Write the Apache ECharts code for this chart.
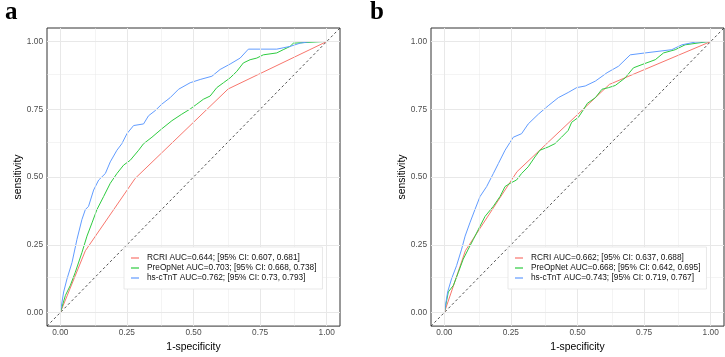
<!DOCTYPE html>
<html>
<head>
<meta charset="utf-8">
<script src="https://cdn.jsdelivr.net/npm/echarts@6/dist/echarts.min.js"></script>
<style>
  html, body { margin: 0; padding: 0; background: #fff; }
  #chart { width: 725px; height: 357px; }
</style>
</head>
<body>
<div id="chart"></div>
<script>
// ROC points as [1-specificity, sensitivity]
const rocA_RCRI = [[0, 0], [0.094, 0.228], [0.281, 0.495], [0.63, 0.825], [1, 1]]
const rocA_PreOpNet = [
  [0, 0], [0.019, 0.063], [0.0375, 0.10], [0.056, 0.148], [0.081, 0.221], [0.10, 0.282],
  [0.119, 0.331], [0.1375, 0.38], [0.1625, 0.428], [0.1875, 0.477], [0.2125, 0.513],
  [0.2375, 0.544], [0.2625, 0.562], [0.294, 0.599], [0.3125, 0.623], [0.344, 0.647],
  [0.381, 0.678], [0.419, 0.708], [0.456, 0.732], [0.4875, 0.751], [0.5125, 0.769],
  [0.537, 0.787], [0.5625, 0.799], [0.5875, 0.83], [0.6125, 0.848], [0.6375, 0.866],
  [0.6625, 0.89], [0.687, 0.921], [0.7125, 0.933], [0.7375, 0.939], [0.762, 0.951],
  [0.8125, 0.958], [0.837, 0.97], [0.8625, 0.982], [0.875, 0.994], [0.987, 1.0], [1, 1]
]
const rocA_cTnT = [
  [0, 0], [0.0125, 0.076], [0.025, 0.124], [0.044, 0.185], [0.0625, 0.27], [0.081, 0.343],
  [0.094, 0.38], [0.106, 0.392], [0.125, 0.452], [0.144, 0.489], [0.169, 0.513],
  [0.1875, 0.556], [0.2125, 0.599], [0.231, 0.623], [0.25, 0.66], [0.275, 0.69],
  [0.3125, 0.696], [0.331, 0.726], [0.356, 0.745], [0.381, 0.769], [0.4125, 0.793],
  [0.444, 0.824], [0.4875, 0.848], [0.525, 0.86], [0.569, 0.872], [0.6, 0.897],
  [0.6375, 0.917], [0.675, 0.939], [0.706, 0.972], [0.8125, 0.972], [0.8625, 0.982],
  [0.9, 0.994], [0.9375, 1.0], [1, 1]
]

const rocB_RCRI = [[0, 0], [0.079, 0.228], [0.273, 0.52], [0.62, 0.842], [1, 1]]
const rocB_PreOpNet = [
  [0, 0], [0.015, 0.076], [0.034, 0.10], [0.0525, 0.148], [0.071, 0.197], [0.09, 0.234],
  [0.109, 0.27], [0.128, 0.307], [0.153, 0.355], [0.184, 0.392], [0.209, 0.428],
  [0.228, 0.465], [0.247, 0.477], [0.271, 0.489], [0.29, 0.513], [0.315, 0.538],
  [0.34, 0.574], [0.359, 0.599], [0.39, 0.611], [0.415, 0.623], [0.44, 0.647],
  [0.465, 0.672], [0.478, 0.702], [0.503, 0.72], [0.52, 0.745], [0.537, 0.772],
  [0.567, 0.793], [0.592, 0.824], [0.617, 0.83], [0.642, 0.838], [0.679, 0.866],
  [0.71, 0.903], [0.742, 0.915], [0.792, 0.933], [0.823, 0.958], [0.867, 0.97],
  [0.904, 0.988], [0.992, 1.0], [1, 1]
]
const rocB_cTnT = [
  [0, 0], [0.0125, 0.076], [0.027, 0.124], [0.046, 0.173], [0.065, 0.234], [0.078, 0.282],
  [0.096, 0.331], [0.115, 0.38], [0.134, 0.428], [0.159, 0.465], [0.184, 0.513],
  [0.203, 0.55], [0.228, 0.599], [0.259, 0.647], [0.29, 0.66], [0.315, 0.696],
  [0.353, 0.732], [0.39, 0.763], [0.428, 0.793], [0.465, 0.812], [0.497, 0.83],
  [0.529, 0.836], [0.567, 0.854], [0.611, 0.885], [0.654, 0.909], [0.698, 0.951],
  [0.754, 0.958], [0.854, 0.97], [0.892, 0.988], [0.942, 0.998], [0.992, 1.0], [1, 1]
]

const namesA = [
  'RCRI AUC=0.644; [95% CI: 0.607, 0.681]',
  'PreOpNet AUC=0.703; [95% CI: 0.668, 0.738]',
  'hs-cTnT AUC=0.762; [95% CI: 0.73, 0.793]'
]
const namesB = [
  'RCRI AUC=0.662; [95% CI: 0.637, 0.688]',
  'PreOpNet AUC=0.668; [95% CI: 0.642, 0.695]',
  'hs-cTnT AUC=0.743; [95% CI: 0.719, 0.767]'
]
const panelLabels = ['a', 'b']

const majorTicks = [0, 0.25, 0.5, 0.75, 1]
const minorTicks = [0.125, 0.375, 0.625, 0.875]
const diagonal = [[-0.05, -0.05], [1.05, 1.05]]

const colors = ['#F8766D', '#2ECC40', '#619CFF']
const FONT = 'Liberation Sans, Arial, sans-serif'

const chart = echarts.init(document.getElementById('chart'))

function makeAxis(dim, idx) {
  const isX = dim === 'x'
  return {
    type: 'value',
    gridIndex: idx,
    min: -0.05,
    max: 1.05,
    name: isX ? '1-specificity' : 'sensitivity',
    nameLocation: 'middle',
    nameGap: isX ? 15.5 : 21,
    nameTextStyle: { fontFamily: FONT, fontSize: 10.4, color: '#000' },
    axisLine: { show: false },
    axisTick: {
      show: true, length: 3, customValues: majorTicks,
      lineStyle: { color: '#333', width: 1 }
    },
    axisLabel: {
      customValues: majorTicks,
      formatter: v => v.toFixed(2),
      fontFamily: FONT, fontSize: 8.3, color: '#4D4D4D',
      margin: isX ? 3 : 4
    },
    splitLine: { show: false }
  }
}

function gridLineSeries(idx) {
  const lines = []
  majorTicks.forEach(v => {
    lines.push({ xAxis: v, lineStyle: { width: 1 } })
    lines.push({ yAxis: v, lineStyle: { width: 1 } })
  })
  minorTicks.forEach(v => {
    lines.push({ xAxis: v, lineStyle: { width: 0.5 } })
    lines.push({ yAxis: v, lineStyle: { width: 0.5 } })
  })
  return {
    type: 'line', xAxisIndex: idx, yAxisIndex: idx, data: [], z: 1, silent: true,
    markLine: {
      silent: true, symbol: ['none', 'none'], label: { show: false },
      lineStyle: { color: '#E8E8E8', type: 'solid' }, animation: false,
      data: lines
    }
  }
}

function curve(name, data, color, idx) {
  return {
    name, type: 'line', xAxisIndex: idx, yAxisIndex: idx, data,
    symbol: 'none', z: 3,
    lineStyle: { color, width: 1 }, itemStyle: { color }
  }
}

function legendFor(names, left) {
  return {
    data: names, left, top: 247, orient: 'vertical', z: 20,
    icon: 'rect', itemWidth: 8, itemHeight: 1.2, itemGap: 0,
    selectedMode: false,
    backgroundColor: '#fff', borderColor: '#E3E3E3', borderWidth: 0.8,
    padding: [6, 6, 6, 7],
    textStyle: { fontFamily: FONT, fontSize: 8.3, color: '#111', lineHeight: 10, padding: [0, 0, 0, 3] }
  }
}

const panels = [
  { names: namesA, curves: [rocA_RCRI, rocA_PreOpNet, rocA_cTnT] },
  { names: namesB, curves: [rocB_RCRI, rocB_PreOpNet, rocB_cTnT] }
]

const series = []
panels.forEach((p, i) => {
  series.push(gridLineSeries(i))
  series.push({
    type: 'line', xAxisIndex: i, yAxisIndex: i, data: diagonal, symbol: 'none', z: 2,
    silent: true, lineStyle: { color: '#222', width: 0.8, type: [2.5, 2.5] }
  })
  p.curves.forEach((c, k) => series.push(curve(p.names[k], c, colors[k], i)))
})

chart.setOption({
  animation: false,
  backgroundColor: '#fff',
  title: panelLabels.map((t, i) => ({
    text: t, left: i === 0 ? 0 : 365, top: -5,
    textStyle: { fontFamily: 'Liberation Serif, serif', fontWeight: 'bold', fontSize: 25, color: '#000' }
  })),
  grid: [
    { left: 47, top: 28, width: 293, height: 301, show: true, borderColor: '#333', borderWidth: 1, backgroundColor: '#fff' },
    { left: 431, top: 28, width: 293, height: 301, show: true, borderColor: '#333', borderWidth: 1, backgroundColor: '#fff' }
  ],
  xAxis: [makeAxis('x', 0), makeAxis('x', 1)],
  yAxis: [makeAxis('y', 0), makeAxis('y', 1)],
  legend: [legendFor(namesA, 124), legendFor(namesB, 508)],
  series
})
</script>
</body>
</html>
